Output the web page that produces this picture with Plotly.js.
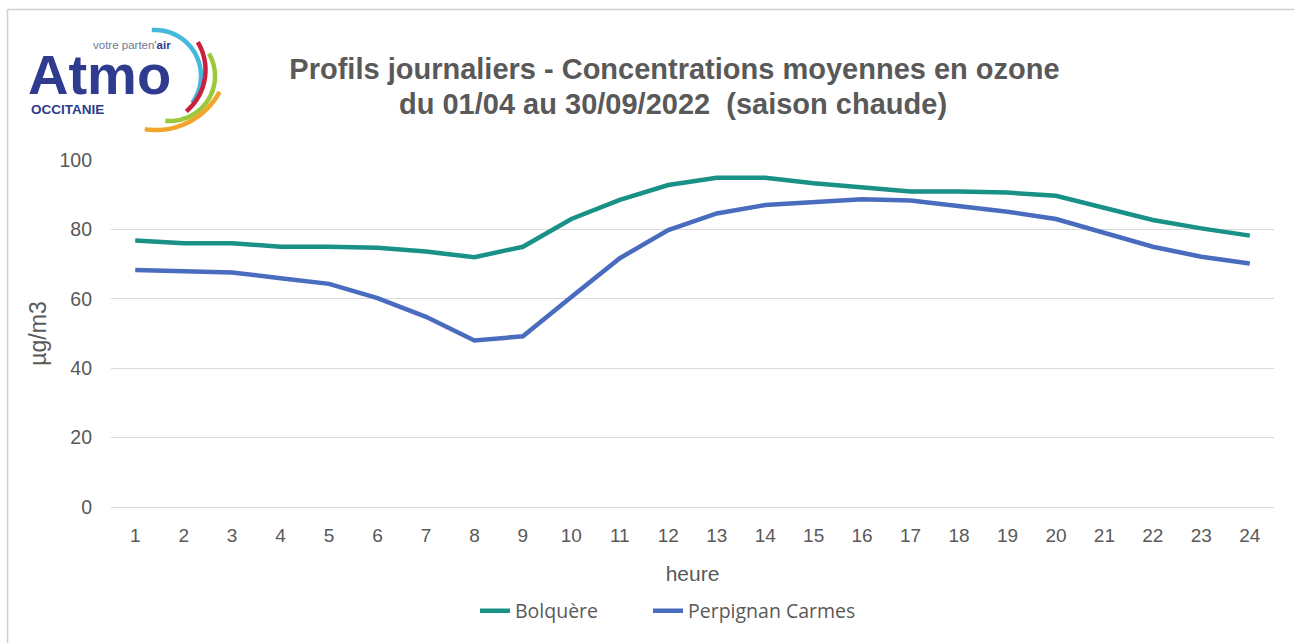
<!DOCTYPE html>
<html>
<head>
<meta charset="utf-8">
<script src="https://cdn.plot.ly/plotly-3.0.1.min.js"></script>
<style>html,body{margin:0;padding:0;background:#fff;}#chart{width:1294px;height:643px;}</style>
</head>
<body>
<div id="chart"></div>
<script>
// ---- data ----
const hours = [1,2,3,4,5,6,7,8,9,10,11,12,13,14,15,16,17,18,19,20,21,22,23,24];
const hourLabels = ["1","2","3","4","5","6","7","8","9","10","11","12","13","14","15","16","17","18","19","20","21","22","23","24"];
const bolquere = [76.8,76,76,75,75,74.7,73.6,72,75,83,88.5,92.8,94.9,94.9,93.3,92,90.9,90.9,90.6,89.7,86.2,82.7,80.3,78.2];
const perpignan = [68.3,67.9,67.6,65.9,64.3,60.2,54.8,48,49.2,60.5,71.7,79.8,84.6,87,87.8,88.7,88.3,86.7,85.1,83,78.9,75,72.1,70.2];
const seriesNames = ["Bolquère","Perpignan Carmes"];
const yTicks = [0,20,40,60,80,100];
const titleLine1 = "Profils journaliers - Concentrations moyennes en ozone";
const titleLine2 = "du 01/04 au 30/09/2022  (saison chaude)";

// ---- layout helpers (pixel -> paper) ----
const W = 1294, H = 643;
const M = {l:111, r:20, t:160, b:136};
const PW = W - M.l - M.r, PH = H - M.t - M.b;
const px = x => (x - M.l) / PW;
const py = y => (H - M.b - y) / PH;

function arcPath(cx, cy, r, a0, a1) {
  let d = "";
  const n = 40;
  for (let i = 0; i <= n; i++) {
    const a = (a0 + (a1 - a0) * i / n) * Math.PI / 180;
    const x = cx + r * Math.cos(a), y = cy + r * Math.sin(a);
    d += (i === 0 ? "M" : "L") + px(x).toFixed(5) + "," + py(y).toFixed(5);
  }
  return d;
}

const arcs = [
  {cx:155, cy:76, r:46, a0:-94, a1:36, c:"#45b8dc"},
  {cx:151.5, cy:70, r:54, a0:-31, a1:50, c:"#c8203e"},
  {cx:170, cy:76, r:45, a0:-30, a1:96, c:"#9cc83c"},
  {cx:156, cy:58, r:72, a0:28, a1:99, c:"#f2a52a"}
];

const shapes = arcs.map(a => ({
  type:"path", xref:"paper", yref:"paper", path: arcPath(a.cx,a.cy,a.r,a.a0,a.a1),
  line:{color:a.c, width:4.5}
}));
// frame
shapes.push({type:"line", xref:"paper", yref:"paper", x0:px(7.5), x1:px(1294), y0:py(9.5), y1:py(9.5), line:{color:"#d0d0d0", width:1.5}});
shapes.push({type:"line", xref:"paper", yref:"paper", x0:px(7.5), x1:px(7.5), y0:py(9.5), y1:py(643), line:{color:"#d0d0d0", width:1.5}});

const annotations = [
  {text:titleLine2, xref:"paper", yref:"paper", x:px(672.5), y:py(104), xanchor:"center", yanchor:"middle", showarrow:false,
   font:{family:"Liberation Sans, Arial, sans-serif", size:29, color:"#595959", weight:"bold"}},
  {text:"Atmo", xref:"paper", yref:"paper", x:px(26), y:py(75), xanchor:"left", yanchor:"middle", showarrow:false,
   font:{family:"Liberation Sans, Arial, sans-serif", size:56, color:"#2e3b8e", weight:"bold"}},
  {text:"votre parten'<b style='color:#2e3b8e'>air</b>", xref:"paper", yref:"paper", x:px(91), y:py(45), xanchor:"left", yanchor:"middle", showarrow:false,
   font:{family:"Liberation Sans, Arial, sans-serif", size:11.5, color:"#6d7896"}},
  {text:"<b>OCCITANIE</b>", xref:"paper", yref:"paper", x:px(29), y:py(109), xanchor:"left", yanchor:"middle", showarrow:false,
   font:{family:"Liberation Sans, Arial, sans-serif", size:13.5, color:"#2e3b8e"}}
];

const traces = [
  {x:hours, y:bolquere, name:seriesNames[0], type:"scatter", mode:"lines", line:{color:"#1a9186", width:4.5}, legend:"legend"},
  {x:hours, y:perpignan, name:seriesNames[1], type:"scatter", mode:"lines", line:{color:"#4a6cbf", width:4.5}, legend:"legend2"}
];

const legendFont = {family:"Open Sans, sans-serif", size:19.5, color:"#595959"};

const layout = {
  width:W, height:H,
  margin:M,
  paper_bgcolor:"#ffffff", plot_bgcolor:"#ffffff",
  font:{family:"Liberation Sans, Arial, sans-serif", color:"#595959"},
  title:{text:titleLine1, x:px(674.5), xref:"paper", xanchor:"center", y:1 - 69/H, yref:"container", yanchor:"middle",
         font:{family:"Liberation Sans, Arial, sans-serif", size:29, color:"#595959", weight:"bold"}},
  xaxis:{range:[0.5,24.5], tickvals:hours, ticktext:hourLabels, showgrid:false, zeroline:false, showline:false,
         ticks:"", ticklabelstandoff:15, tickfont:{size:19, color:"#595959"},
         title:{text:"heure", font:{size:21, color:"#595959"}, standoff:21}},
  yaxis:{range:[0,100], tickvals:yTicks, showgrid:true, gridcolor:"#d9d9d9", gridwidth:1,
         zeroline:true, zerolinecolor:"#d9d9d9", zerolinewidth:1, showline:false, ticks:"", ticklabelstandoff:18,
         tickfont:{size:19.5, color:"#595959"},
         title:{text:"µg/m3", font:{size:23, color:"#595959"}, standoff:6}},
  showlegend:true,
  legend:{orientation:"h", x:px(475), xanchor:"left", y:py(611), yanchor:"middle", font:legendFont, bgcolor:"rgba(0,0,0,0)"},
  legend2:{orientation:"h", x:px(648), xanchor:"left", y:py(611), yanchor:"middle", font:legendFont, bgcolor:"rgba(0,0,0,0)"},
  shapes:shapes,
  annotations:annotations
};

Plotly.newPlot("chart", traces, layout, {displayModeBar:false, responsive:false});
</script>
</body>
</html>
